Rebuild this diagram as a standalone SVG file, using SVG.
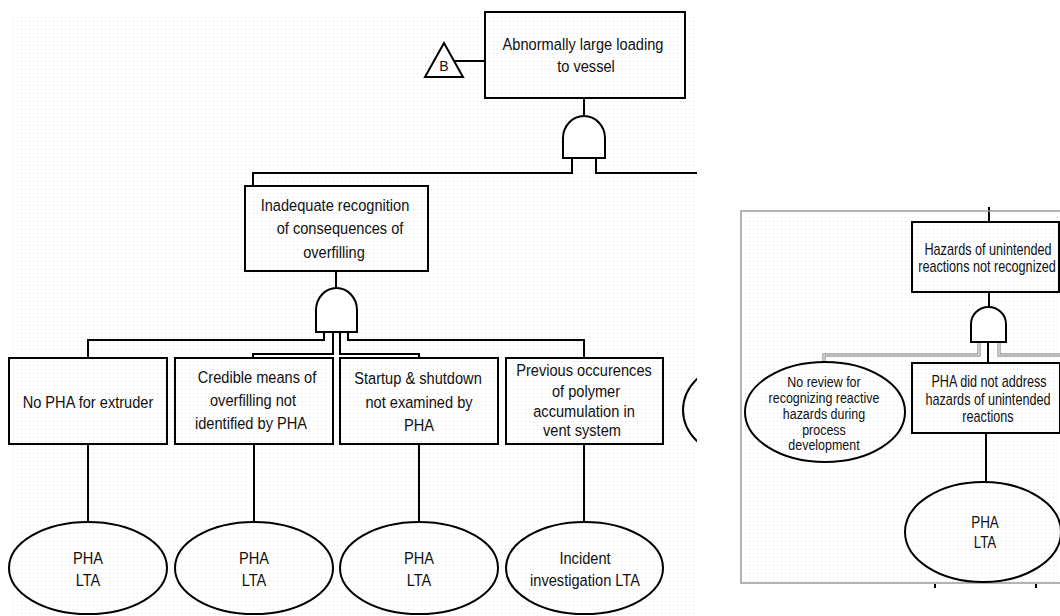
<svg xmlns="http://www.w3.org/2000/svg" width="1060" height="616" viewBox="0 0 1060 616">
<defs>
<pattern id="dots" width="4" height="4" patternUnits="userSpaceOnUse">
<rect x="1" y="1" width="1" height="1" fill="#e2e2e2"/>
</pattern>
<clipPath id="leftclip"><rect x="0" y="0" width="697" height="616"/></clipPath>
<style>
.bx{fill:none;stroke:#000;stroke-width:2}
.ln{fill:none;stroke:#000;stroke-width:2}
.gate{fill:#fff;stroke:#000;stroke-width:2}
.t{font-family:"Liberation Sans",Arial,sans-serif;font-size:17px;fill:#111;text-anchor:middle}
.ts{font-family:"Liberation Sans",Arial,sans-serif;font-size:16px;fill:#111;text-anchor:middle}
.tx{font-family:"Liberation Sans",Arial,sans-serif;font-size:14.5px;fill:#111;text-anchor:middle}
.dbl{fill:none;stroke:#777;stroke-width:3}
.dbli{fill:none;stroke:#fff;stroke-width:1.2}
</style>
</defs>
<rect width="1060" height="616" fill="#fff"/>
<rect x="10" y="17" width="687" height="599" fill="url(#dots)"/>
<rect x="741" y="211" width="330" height="372" fill="url(#dots)"/>

<g id="connectors">
<g clip-path="url(#leftclip)">
<line class="ln" x1="454" y1="61" x2="485" y2="61"/>
<line class="ln" x1="584" y1="98" x2="584" y2="116"/>
<polyline class="ln" points="572,158 572,173 253,173 253,186"/>
<polyline class="ln" points="596,158 596,173 697,173"/>
<line class="ln" x1="336" y1="271" x2="336" y2="288"/>
<polyline class="ln" points="324,332 324,340 88,340 88,358"/>
<polyline class="ln" points="333,332 333,354 253,354 253,358"/>
<polyline class="ln" points="340,332 340,354 419,354 419,358"/>
<polyline class="ln" points="348,332 348,340 584,340 584,358"/>
<line class="ln" x1="88" y1="444" x2="88" y2="522"/>
<line class="ln" x1="254" y1="444" x2="254" y2="522"/>
<line class="ln" x1="419" y1="444" x2="419" y2="522"/>
<line class="ln" x1="584" y1="444" x2="584" y2="522"/>
</g>
<line class="ln" x1="989" y1="207" x2="989" y2="222"/>
<line class="ln" x1="989" y1="292" x2="989" y2="308"/>
<polyline class="dbl" points="979,342 979,355 824,355 824,363"/>
<polyline class="dbli" points="979,342 979,355 824,355 824,362"/>
<polyline class="dbl" points="999,342 999,355 1062,355"/>
<polyline class="dbli" points="999,342 999,355 1062,355"/>
<line class="ln" x1="988" y1="342" x2="988" y2="363"/>
<line class="ln" x1="986" y1="433" x2="986" y2="483"/>
</g>

<rect x="741" y="211" width="330" height="372" fill="none" stroke="#9a9a9a" stroke-width="1.5"/>
<line x1="935" y1="584" x2="935" y2="588" stroke="#000" stroke-width="2"/>
<line x1="1036" y1="584" x2="1036" y2="588" stroke="#000" stroke-width="2"/>

<g id="transfer-B">
<polygon points="444,43 425,77 463,77" fill="#fff" stroke="#000" stroke-width="2"/>
<text x="444" y="71" font-family="Liberation Sans,Arial,sans-serif" font-size="14" text-anchor="middle" fill="#111">B</text>
</g>

<g id="top-event">
<rect class="bx" x="485" y="12" width="200" height="86" fill="#fff"/>
<text class="t" transform="translate(583 50) scale(.86 1)">Abnormally large loading</text>
<text class="t" transform="translate(586 72) scale(.86 1)">to vessel</text>
</g>
<g id="gate-top">
<path class="gate" d="M563,158 L563,138 A21,22 0 0 1 605,138 L605,158 Z"/>
</g>

<g id="inadequate-recognition">
<rect class="bx" x="245" y="186" width="183" height="85"/>
<text class="t" transform="translate(335 211) scale(.86 1)">Inadequate recognition</text>
<text class="t" transform="translate(340 234) scale(.86 1)">of consequences of</text>
<text class="t" transform="translate(334 258) scale(.86 1)">overfilling</text>
</g>
<g id="gate-2">
<path class="gate" d="M316,332 L316,310 A20.5,22 0 0 1 357,310 L357,332 Z"/>
</g>

<g id="no-pha-extruder">
<rect class="bx" x="9" y="358" width="158" height="86"/>
<text class="t" transform="translate(88 408) scale(.86 1)">No PHA for extruder</text>
</g>
<g id="credible-means">
<rect class="bx" x="175" y="358" width="158" height="86"/>
<text class="t" transform="translate(257 383) scale(.86 1)">Credible means of</text>
<text class="t" transform="translate(253 406) scale(.86 1)">overfilling not</text>
<text class="t" transform="translate(251 429) scale(.86 1)">identified by PHA</text>
</g>
<g id="startup-shutdown">
<rect class="bx" x="340" y="358" width="158" height="86"/>
<text class="t" transform="translate(418 384) scale(.86 1)">Startup &amp; shutdown</text>
<text class="t" transform="translate(419 408) scale(.86 1)">not examined by</text>
<text class="t" transform="translate(419 431) scale(.86 1)">PHA</text>
</g>
<g id="previous-occurences">
<rect class="bx" x="506" y="358" width="157" height="86"/>
<text class="t" transform="translate(584 376) scale(.86 1)">Previous occurences</text>
<text class="t" transform="translate(586 397) scale(.86 1)">of polymer</text>
<text class="t" transform="translate(584 417) scale(.86 1)">accumulation in</text>
<text class="t" transform="translate(582 436) scale(.86 1)">vent system</text>
</g>
<g id="partial-ellipse" clip-path="url(#leftclip)">
<ellipse cx="763" cy="410" rx="80" ry="55" fill="none" stroke="#000" stroke-width="2"/>
</g>

<g id="pha-lta-1">
<ellipse cx="88" cy="568" rx="79" ry="46" fill="none" stroke="#000" stroke-width="2"/>
<text class="t" transform="translate(88 564) scale(.86 1)">PHA</text>
<text class="t" transform="translate(88 586) scale(.86 1)">LTA</text>
</g>
<g id="pha-lta-2">
<ellipse cx="254" cy="568" rx="79" ry="46" fill="none" stroke="#000" stroke-width="2"/>
<text class="t" transform="translate(254 564) scale(.86 1)">PHA</text>
<text class="t" transform="translate(254 586) scale(.86 1)">LTA</text>
</g>
<g id="pha-lta-3">
<ellipse cx="419" cy="568" rx="79" ry="46" fill="none" stroke="#000" stroke-width="2"/>
<text class="t" transform="translate(419 564) scale(.86 1)">PHA</text>
<text class="t" transform="translate(419 586) scale(.86 1)">LTA</text>
</g>
<g id="incident-investigation">
<ellipse cx="584.5" cy="568" rx="78.5" ry="46" fill="none" stroke="#000" stroke-width="2"/>
<text class="t" transform="translate(585 564) scale(.86 1)">Incident</text>
<text class="t" transform="translate(585 586) scale(.86 1)">investigation LTA</text>
</g>

<g id="hazards-unintended">
<rect class="bx" x="912" y="222" width="147" height="70"/>
<text class="ts" transform="translate(988 255) scale(.79 1)">Hazards of unintended</text>
<text class="ts" transform="translate(987 272) scale(.79 1)">reactions not recognized</text>
</g>
<g id="gate-3">
<path class="gate" d="M971,342 L971,324 A17.5,17 0 0 1 1006,324 L1006,342 Z"/>
</g>
<g id="no-review">
<ellipse cx="825" cy="412" rx="80" ry="50" fill="none" stroke="#000" stroke-width="2"/>
<text class="tx" transform="translate(824 387) scale(.86 1)">No review for</text>
<text class="tx" transform="translate(824 403) scale(.86 1)">recognizing reactive</text>
<text class="tx" transform="translate(824 419) scale(.86 1)">hazards during</text>
<text class="tx" transform="translate(824 434.5) scale(.86 1)">process</text>
<text class="tx" transform="translate(824 450) scale(.86 1)">development</text>
</g>
<g id="pha-not-address">
<rect class="bx" x="912" y="363" width="148" height="70"/>
<text class="ts" transform="translate(989 387) scale(.79 1)">PHA did not address</text>
<text class="ts" transform="translate(988 405) scale(.79 1)">hazards of unintended</text>
<text class="ts" transform="translate(988 422) scale(.79 1)">reactions</text>
</g>
<g id="pha-lta-4">
<ellipse cx="983" cy="532" rx="78" ry="50" fill="none" stroke="#000" stroke-width="2"/>
<text class="ts" transform="translate(985 528) scale(.84 1)">PHA</text>
<text class="ts" transform="translate(985 548) scale(.84 1)">LTA</text>
</g>
</svg>
